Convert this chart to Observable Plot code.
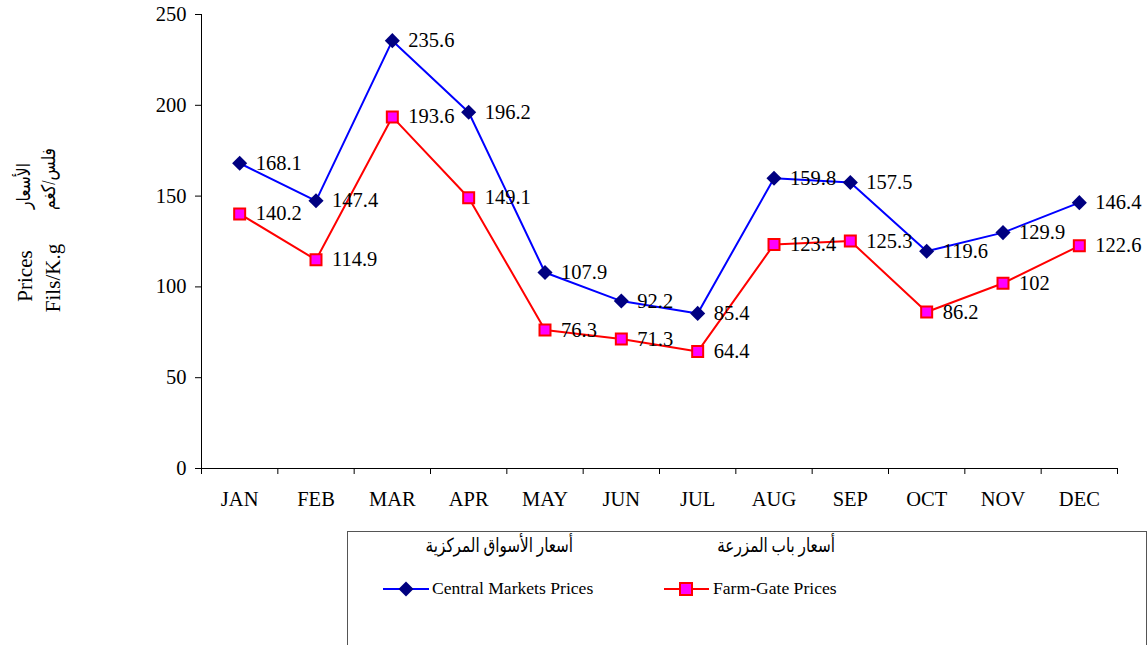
<!DOCTYPE html>
<html>
<head>
<meta charset="utf-8">
<script src="https://cdn.jsdelivr.net/npm/d3@7"></script>
<script src="https://cdn.jsdelivr.net/npm/@observablehq/plot@0.6"></script>
<style>
  html, body { margin: 0; padding: 0; background: #fff; }
  #wrap { position: relative; width: 1148px; height: 645px; overflow: hidden; font-family: "Liberation Serif", "DejaVu Sans", serif; color: #000; }
  .ylab { position: absolute; font-size: 21px; white-space: nowrap; transform: translate(-50%, -50%) rotate(-90deg); }
  .ylab.ar { font-size: 19px; transform: translate(-50%, -50%) rotate(-90deg) scaleX(0.82); }
  #legend { position: absolute; left: 347px; top: 531px; width: 800px; height: 130px; border: 1px solid #555; box-sizing: border-box; }
  #legend .t { position: absolute; font-size: 17.6px; white-space: nowrap; line-height: 1; }
  #legend .t.ar { font-size: 19.5px; transform-origin: right center; transform: scaleX(0.78); }
</style>
</head>
<body>
<div id="wrap"></div>
<script>
const months = ["JAN","FEB","MAR","APR","MAY","JUN","JUL","AUG","SEP","OCT","NOV","DEC"];
const centralMarkets = [168.1,147.4,235.6,196.2,107.9,92.2,85.4,159.8,157.5,119.6,129.9,146.4];
const farmGate = [140.2,114.9,193.6,149.1,76.3,71.3,64.4,123.4,125.3,86.2,102,122.6];
const yTicks = [0,50,100,150,200,250];
const seriesNames = ["Central Markets Prices","Farm-Gate Prices"];
const seriesNamesAr = ["أسعار الأسواق المركزية","أسعار باب المزرعة"];

const central = months.map((m,i)=>({i: i+0.5, m, v: centralMarkets[i]}));
const farm = months.map((m,i)=>({i: i+0.5, m, v: farmGate[i]}));

const font = "'Liberation Serif', serif";
const fs = 20.5;
const plot = Plot.plot({
  width: 1148,
  height: 520,
  marginLeft: 201,
  marginRight: 31,
  marginTop: 14,
  marginBottom: 52,
  style: {fontFamily: font, fontSize: fs + "px", color: "#000", background: "#fff", overflow: "visible"},
  x: {domain: [0, 12], axis: null},
  y: {domain: [0, 250], axis: null},
  marks: [
    Plot.axisY({ticks: yTicks, tickSize: 6, tickPadding: 9, fontSize: fs, stroke: "#000", label: null, tickFormat: d => String(d)}),
    Plot.axisX({ticks: d3.range(13), tickSize: 6, tickFormat: () => "", stroke: "#000", label: null}),
    Plot.ruleX([0], {stroke: "#000", strokeWidth: 1}),
    Plot.ruleY([0], {stroke: "#000", strokeWidth: 1}),
    Plot.text(months, {x: (d,i) => i+0.5, y: 0, text: d => d, dy: 31, fontSize: fs, fill: "#000"}),
    Plot.line(central, {x: "i", y: "v", stroke: "#0000FF", strokeWidth: 2}),
    Plot.line(farm, {x: "i", y: "v", stroke: "#FF0000", strokeWidth: 2}),
    Plot.dot(central, {x: "i", y: "v", symbol: "diamond2", r: 6.8, fill: "#000080", stroke: "none"}),
    Plot.dot(farm, {x: "i", y: "v", symbol: "square", r: 6.2, fill: "#FF00FF", stroke: "#FF0000", strokeWidth: 2}),
    Plot.text(central, {x: "i", y: "v", text: d => String(d.v), dx: 16, textAnchor: "start", fontSize: fs, fill: "#000"}),
    Plot.text(farm, {x: "i", y: "v", text: d => String(d.v), dx: 16, textAnchor: "start", fontSize: fs, fill: "#000"})
  ]
});
const wrap = document.getElementById("wrap");
plot.style.position = "absolute";
plot.style.left = "0px";
plot.style.top = "0px";
wrap.appendChild(plot);

// y-axis title (rotated)
function addLab(text, x, y, ar) {
  const d = document.createElement("div");
  d.className = "ylab" + (ar ? " ar" : "");
  d.textContent = text;
  d.style.left = x + "px";
  d.style.top = y + "px";
  wrap.appendChild(d);
}
addLab("Prices", 25, 276);
addLab("الأسعار", 23, 186, true);
addLab("Fils/K.g", 53, 278);
addLab("فلس/كغم", 48, 179, true);

// legend
const lg = document.createElement("div");
lg.id = "legend";
wrap.appendChild(lg);
const L = 347, T = 531;
function addT(text, x, y, anchorRight, dir) {
  const d = document.createElement("div");
  d.className = "t" + (dir ? " ar" : "");
  d.textContent = text;
  if (dir) d.dir = dir;
  if (anchorRight) { d.style.right = (800 - (x - L)) + "px"; }
  else d.style.left = (x - L) + "px";
  d.style.top = (y - T - (dir ? 11 : 9)) + "px";
  lg.appendChild(d);
}
addT(seriesNamesAr[0], 574, 546, true, "rtl");
addT(seriesNamesAr[1], 836, 546, true, "rtl");
addT(seriesNames[0], 431, 588, false);
addT(seriesNames[1], 712, 588, false);

const ns = "http://www.w3.org/2000/svg";
const sw = document.createElementNS(ns, "svg");
sw.setAttribute("width", 800); sw.setAttribute("height", 130);
sw.style.position = "absolute"; sw.style.left = "0"; sw.style.top = "0";
function el(tag, attrs) { const e = document.createElementNS(ns, tag); for (const k in attrs) e.setAttribute(k, attrs[k]); sw.appendChild(e); return e; }
const yy = 588 - T;
el("line", {x1: 382 - L, x2: 428 - L, y1: yy, y2: yy, stroke: "#0000FF", "stroke-width": 2});
el("path", {d: d3.symbol(d3.symbolDiamond2, 144)(), transform: `translate(${405 - L},${yy})`, fill: "#000080"});
el("line", {x1: 663 - L, x2: 708 - L, y1: yy, y2: yy, stroke: "#FF0000", "stroke-width": 2});
el("rect", {x: 685 - L - 6, y: yy - 6, width: 12, height: 12, fill: "#FF00FF", stroke: "#FF0000", "stroke-width": 2});
lg.insertBefore(sw, lg.firstChild);
</script>
</body>
</html>
